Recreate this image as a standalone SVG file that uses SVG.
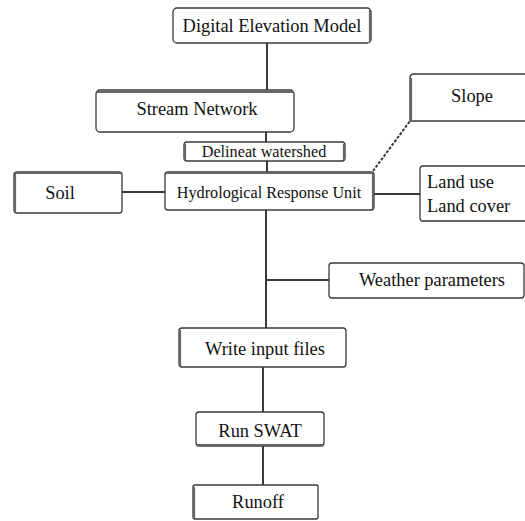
<svg xmlns="http://www.w3.org/2000/svg" width="525" height="521" viewBox="0 0 525 521">
<style>
.box{fill:#fff;stroke:#3a3a3a;stroke-width:1.3}
.sh{fill:none;stroke:#666;stroke-width:2.2}
.t{font-family:'Liberation Serif','Times New Roman',serif;fill:#111;font-size:18.4px}
.s{font-size:16.2px}
.ln{stroke:#3a3a3a;stroke-width:2;fill:none}
</style>
<rect width="525" height="521" fill="#fff"/>
<g id="connectors">
<line class="ln" x1="267" y1="43" x2="267" y2="90"/>
<line class="ln" x1="266" y1="132" x2="266" y2="142"/>
<line class="ln" x1="267" y1="161" x2="267" y2="172"/>
<line class="ln" x1="266" y1="210" x2="266" y2="328"/>
<line class="ln" x1="266" y1="280" x2="329" y2="280"/>
<line class="ln" x1="122" y1="192" x2="165" y2="192"/>
<line class="ln" x1="374" y1="194" x2="420" y2="194"/>
<line class="ln" x1="373" y1="171" x2="410" y2="121" stroke-dasharray="3,1.5"/>
<line class="ln" x1="263" y1="367" x2="263" y2="412"/>
<line class="ln" x1="263" y1="446" x2="263" y2="485"/>
</g>
<g id="dem">
<rect class="box" x="173" y="8" width="198" height="35" rx="4"/>
<path class="sh" d="M370,10 V42"/>
<text class="t" x="272" y="32" text-anchor="middle">Digital Elevation Model</text>
</g>
<g id="stream">
<rect class="box" x="96" y="90" width="198" height="42" rx="4"/>
<path class="sh" d="M97,92 H293"/>
<text class="t" x="197" y="115" text-anchor="middle">Stream Network</text>
</g>
<g id="delineat">
<rect class="box" x="184" y="142" width="161" height="19" rx="3"/>
<path class="sh" d="M185,144 V160 M344,144 V160"/>
<text class="t s" x="264" y="157" text-anchor="middle">Delineat watershed</text>
</g>
<g id="hru">
<rect class="box" x="165" y="172" width="209" height="38" rx="3"/>
<path class="sh" d="M166,173 H373 M373,174 V209"/>
<text class="t s" x="269" y="198" text-anchor="middle">Hydrological Response Unit</text>
</g>
<g id="soil">
<rect class="box" x="14" y="172" width="108" height="41" rx="3"/>
<path class="sh" d="M15,174 V212 M15,173 H121"/>
<text class="t" x="60" y="199" text-anchor="middle">Soil</text>
</g>
<g id="slope">
<path class="box" d="M526,74 H414 Q410,74 410,78 V121 H526"/>
<path class="sh" d="M411,78 V120"/>
<text class="t" x="472" y="102" text-anchor="middle">Slope</text>
</g>
<g id="landuse">
<path class="box" d="M526,166 H423 Q420,166 420,169 V218 Q420,221 423,221 H526"/>
<path class="sh" d="M421,166 H525 M421,221 H525"/>
<text class="t" x="427" y="188">Land use</text>
<text class="t" x="427" y="212">Land cover</text>
</g>
<g id="weather">
<rect class="box" x="329" y="263" width="195" height="35" rx="3"/>
<text class="t" x="432" y="286" text-anchor="middle">Weather parameters</text>
</g>
<g id="write">
<rect class="box" x="179" y="328" width="167" height="39" rx="3"/>
<path class="sh" d="M180,330 V366"/>
<text class="t" x="265" y="355" text-anchor="middle">Write input files</text>
</g>
<g id="runswat">
<rect class="box" x="196" y="412" width="128" height="34" rx="3"/>
<path class="sh" d="M197,445 H323"/>
<text class="t" x="260" y="437" text-anchor="middle">Run SWAT</text>
</g>
<g id="runoff">
<rect class="box" x="193" y="485" width="125" height="34" rx="2"/>
<path class="sh" d="M194,487 V518"/>
<text class="t" x="258" y="508" text-anchor="middle">Runoff</text>
</g>
</svg>
